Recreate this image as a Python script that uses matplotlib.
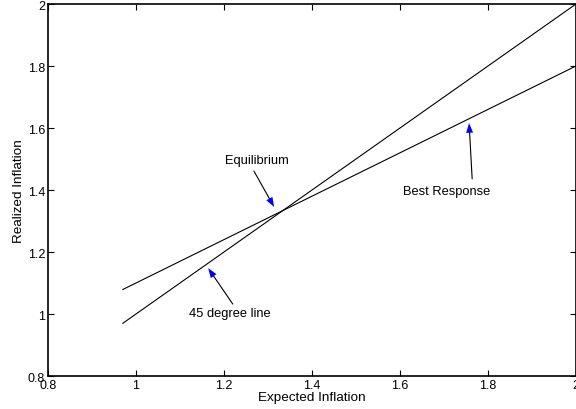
import matplotlib
matplotlib.use("Agg")
import matplotlib.pyplot as plt
import numpy as np

# Data
expected = np.array([0.97, 2.0])
forty_five = expected.copy()
best_intercept = 0.4
best_slope = 0.7
best_response = best_intercept + best_slope * expected

# annotations: text, text position, arrow tail, arrow tip
notes = [
    ("Equilibrium", (1.275, 1.497), (1.268, 1.461), (1.314, 1.345)),
    ("45 degree line", (1.214, 1.003), (1.22, 1.032), (1.164, 1.148)),
    ("Best Response", (1.705, 1.397), (1.764, 1.436), (1.757, 1.616)),
]

plt.rcParams["font.family"] = ["Liberation Sans", "DejaVu Sans"]

fig = plt.figure(figsize=(5.76, 4.10), dpi=100)
ax = fig.add_axes([48 / 576, 33 / 410, 528 / 576, 372 / 410])

ax.plot(expected, forty_five, color="black", lw=0.8)
ax.plot(expected, best_response, color="black", lw=0.8)

for text, tpos, tail, tip in notes:
    ax.text(tpos[0], tpos[1], text, ha="center", va="center", fontsize=9.3)
    # shaft in black, head in blue
    ax.annotate("", xy=tip, xytext=tail,
                arrowprops=dict(arrowstyle="-", color="black", lw=0.8,
                                shrinkA=0, shrinkB=3))
    ax.annotate("", xy=tip, xytext=tail,
                arrowprops=dict(arrowstyle="-|>,head_length=0.7,head_width=0.25",
                                color="blue", lw=0, shrinkA=0, shrinkB=0))

ax.set_xlim(0.8, 2.0)
ax.set_ylim(0.8, 2.0)
ax.set_xticks(np.arange(0.8, 2.01, 0.2))
ax.set_yticks(np.arange(0.8, 2.01, 0.2))
ax.set_xticklabels(["0.8", "1", "1.2", "1.4", "1.6", "1.8", "2"])
ax.set_yticklabels(["0.8", "1", "1.2", "1.4", "1.6", "1.8", "2"])
ax.tick_params(direction="in", length=4, width=0.8, labelsize=9,
               top=True, right=True, pad=2)
for s in ax.spines.values():
    s.set_linewidth(1.2)

ax.set_xlabel("Expected Inflation", fontsize=9.7, labelpad=0)
ax.set_ylabel("Realized Inflation", fontsize=9.7, labelpad=2)

fig.savefig("out.png", dpi=100)
